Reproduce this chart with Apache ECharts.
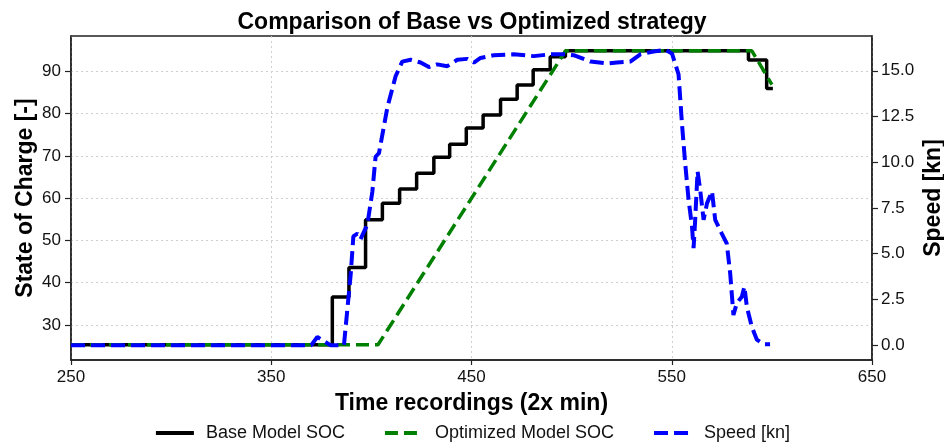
<!DOCTYPE html>
<html>
<head>
<meta charset="utf-8">
<script src="https://cdn.jsdelivr.net/npm/echarts@6/dist/echarts.min.js"></script>
<style>
  html, body { margin: 0; padding: 0; background: #fff; }
  #chart { width: 944px; height: 443px; }
</style>
</head>
<body>
<div id="chart"></div>
<script>
// time axis values (recording index)
const xTicks = [250, 350, 450, 550, 650];
const socTicks = [30, 40, 50, 60, 70, 80, 90];
const speedTicks = [0, 2.5, 5, 7.5, 10, 12.5, 15];

// base model SOC, stepwise charging
const baseTime = [250, 380.5, 388.8, 397.1, 405.5, 414.1, 422.6, 431.2, 439.1, 447.4, 455.8, 464.5, 472.8, 480.8, 489.3, 496.9, 588.3, 597.4, 600.5];
const baseSoc = [25.3, 36.6, 43.6, 54.9, 58.8, 62.2, 65.9, 69.7, 72.8, 76.6, 79.7, 83.4, 86.8, 90.4, 93.5, 94.9, 92.7, 86.0, 86.0];

// optimized model SOC
const optTime = [250, 403.3, 497, 590, 600];
const optSoc = [25.3, 25.3, 94.9, 94.9, 86.9];

// vessel speed
const speedTime = [250, 370, 373, 379.5, 386.3, 389.7, 391.0, 393.0, 394.6, 398.0, 400.5, 402.1, 403.8, 408.0, 412.1, 415.4, 419.6, 424.6, 428.7, 432.9, 437.9, 442.9, 447.9, 451.2, 454.5, 461.1, 471.1, 481.1, 489.4, 496.9, 501.0, 509.4, 517.7, 522.7, 529.3, 534.3, 540.9, 546.8, 550.1, 553.4, 555.1, 556.7, 558.4, 560.1, 560.9, 561.7, 562.9, 564.2, 565.9, 567.6, 570.1, 571.7, 575.0, 577.5, 579.2, 580.8, 582.5, 585.0, 586.3, 587.5, 590.0, 592.5, 595.8, 599.1];
const speedKn = [0, 0, 0.45, 0, 0, 3.9, 5.95, 6.1, 5.8, 6.6, 8.4, 10.3, 10.5, 13.0, 14.7, 15.5, 15.6, 15.45, 15.2, 15.35, 15.25, 15.6, 15.65, 15.45, 15.7, 15.85, 15.9, 15.8, 15.9, 15.9, 15.85, 15.5, 15.4, 15.45, 15.5, 15.9, 16.05, 16.15, 15.95, 14.8, 12.1, 9.95, 7.95, 6.5, 5.3, 6.85, 9.5, 8.5, 6.85, 7.75, 8.4, 6.85, 6.1, 5.55, 3.9, 1.65, 2.3, 2.65, 3.2, 2.1, 1.0, 0.3, 0.05, 0.05];

const zip = (xs, ys) => xs.map((x, i) => [x, ys[i]]);

const FONT = "Liberation Sans, Arial, sans-serif";
const AXIS_COLOR = "#222";
const gridLine = { show: true, lineStyle: { color: "#cfcfcf", type: [2, 3], width: 1 } };
const nameStyle = { fontFamily: FONT, fontSize: 23, fontWeight: "bold", color: "#000" };

const chart = echarts.init(document.getElementById("chart"));

chart.setOption({
  animation: false,
  textStyle: { fontFamily: FONT },
  title: {
    text: "Comparison of Base vs Optimized strategy",
    left: "center",
    top: 6,
    textStyle: { fontFamily: FONT, fontSize: 23, fontWeight: "bold", color: "#000" },
  },
  grid: {
    left: 71,
    right: 72,
    top: 36,
    bottom: 83,
    outerBoundsMode: "none",
    containLabel: false,
    show: true,
    borderColor: AXIS_COLOR,
    borderWidth: 1.5,
    backgroundColor: "transparent",
  },
  legend: {
    top: 424,
    left: "center",
    itemWidth: 38,
    itemHeight: 14,
    itemGap: 38,
    padding: 0,
    itemStyle: { opacity: 0 },
    lineStyle: { width: 4 },
    textStyle: { fontFamily: FONT, fontSize: 18, color: "#111", padding: [0, 0, 0, 7] },
    data: ["Base Model SOC", "Optimized Model SOC", "Speed [kn]"],
  },
  xAxis: {
    type: "value",
    min: 250,
    max: 650,
    name: "Time recordings (2x min)",
    nameLocation: "middle",
    nameGap: 32,
    nameMoveOverlap: false,
    nameTextStyle: nameStyle,
    axisLine: { show: true, onZero: false, lineStyle: { color: AXIS_COLOR, width: 1.5 } },
    axisTick: { show: true, length: 5, customValues: xTicks, lineStyle: { color: AXIS_COLOR, width: 1.2 } },
    axisLabel: { customValues: xTicks, fontSize: 17, color: "#111", margin: 9 },
    splitLine: gridLine,
  },
  yAxis: [
    {
      type: "value",
      position: "left",
      min: 21.7,
      max: 98.4,
      name: "State of Charge [-]",
      nameLocation: "middle",
      nameRotate: 90,
      nameGap: 34,
      nameMoveOverlap: false,
      nameTextStyle: nameStyle,
      axisLine: { show: true, onZero: false, lineStyle: { color: AXIS_COLOR, width: 1.5 } },
      axisTick: { show: true, length: 6, customValues: socTicks, lineStyle: { color: AXIS_COLOR, width: 1.2 } },
      axisLabel: { customValues: socTicks, fontSize: 17, color: "#111", margin: 10 },
      splitLine: gridLine,
    },
    {
      type: "value",
      position: "right",
      min: -0.81,
      max: 16.9,
      name: "Speed [kn]",
      nameLocation: "middle",
      nameRotate: 90,
      nameGap: 50,
      nameMoveOverlap: false,
      nameTextStyle: nameStyle,
      axisLine: { show: true, onZero: false, lineStyle: { color: AXIS_COLOR, width: 1.5 } },
      axisTick: { show: true, length: 6, customValues: speedTicks, lineStyle: { color: AXIS_COLOR, width: 1.2 } },
      axisLabel: {
        customValues: speedTicks,
        fontSize: 17,
        color: "#111",
        margin: 9,
        formatter: (v) => Number(v).toFixed(1),
      },
      splitLine: { show: false },
    },
  ],
  series: [
    {
      name: "Base Model SOC",
      type: "line",
      yAxisIndex: 0,
      step: "end",
      symbol: "none",
      data: zip(baseTime, baseSoc),
      lineStyle: { color: "#000", width: 3.5 },
      itemStyle: { color: "#000" },
      z: 2,
    },
    {
      name: "Optimized Model SOC",
      type: "line",
      yAxisIndex: 0,
      symbol: "none",
      data: zip(optTime, optSoc),
      lineStyle: { color: "#008000", width: 3.5, type: [13, 6] },
      itemStyle: { color: "#008000" },
      z: 3,
    },
    {
      name: "Speed [kn]",
      type: "line",
      yAxisIndex: 1,
      symbol: "none",
      data: zip(speedTime, speedKn),
      lineStyle: { color: "#0000ff", width: 4, type: [14, 6] },
      itemStyle: { color: "#0000ff" },
      z: 4,
    },
  ],
});

window.addEventListener("resize", () => chart.resize());
</script>
</body>
</html>
